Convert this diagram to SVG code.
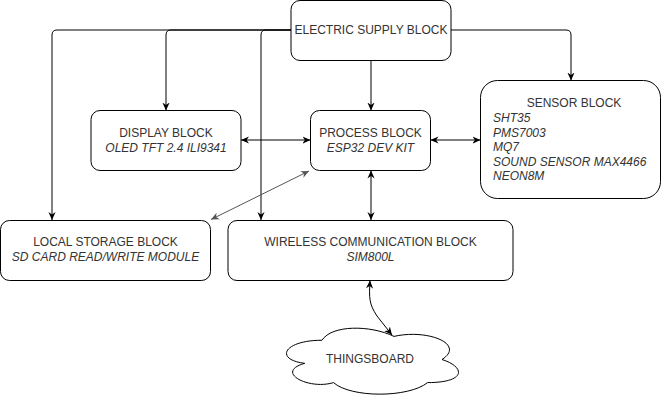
<svg xmlns="http://www.w3.org/2000/svg" width="662" height="402" viewBox="0 0 662 402">
<style>
.box{fill:#fff;stroke:#000;stroke-width:1}
.t{font-family:"Liberation Sans",Arial,sans-serif;font-size:12px;fill:#333;text-anchor:middle}
.i{font-style:italic}
.l{text-anchor:start}
.c{fill:none;stroke:#000;stroke-width:1}
.g{fill:none;stroke:#555;stroke-width:1}
</style>
<defs>
<marker id="a" viewBox="0 0 10 10" refX="10" refY="5" markerWidth="8" markerHeight="8" markerUnits="userSpaceOnUse" orient="auto-start-reverse"><path d="M0,0.5 L10,5 L0,9.5 L3,5 Z" fill="#000"/></marker>
<marker id="ag" viewBox="0 0 10 10" refX="10" refY="5" markerWidth="8" markerHeight="8" markerUnits="userSpaceOnUse" orient="auto-start-reverse"><path d="M0,0.5 L10,5 L0,9.5 L3,5 Z" fill="#555"/></marker>
</defs>
<rect width="662" height="402" fill="#fff"/>
<g id="connectors">
<path class="c" d="M291,30 H57 Q52,30 52,35 V220" marker-end="url(#a)"/>
<path class="c" d="M291,30 H171 Q166,30 166,35 V110.5" marker-end="url(#a)"/>
<path class="c" d="M291,30 H266 Q261,30 261,35 V220" marker-end="url(#a)"/>
<path class="c" d="M451,30 H566 Q571,30 571,35 V80.5" marker-end="url(#a)"/>
<path class="c" d="M371,60.5 V110.5" marker-end="url(#a)"/>
<path class="c" d="M241,140 H310.5" marker-start="url(#a)" marker-end="url(#a)"/>
<path class="c" d="M430.5,140 H480.5" marker-start="url(#a)" marker-end="url(#a)"/>
<path class="c" d="M371,170.5 V220" marker-start="url(#a)" marker-end="url(#a)"/>
<path class="g" d="M309,171 L211,219.5" marker-start="url(#ag)" marker-end="url(#ag)"/>
<path class="c" d="M370,280.5 C369,298 369,304 377,316 L392,335" marker-start="url(#a)" marker-end="url(#a)"/>
</g>
<g id="supply">
<rect class="box" x="291" y="0.5" width="160" height="60" rx="9"/>
<text class="t" x="371" y="34">ELECTRIC SUPPLY BLOCK</text>
</g>
<g id="display">
<rect class="box" x="91" y="110.5" width="150" height="60" rx="9"/>
<text class="t" x="166" y="137">DISPLAY BLOCK</text>
<text class="t i" x="166" y="152">OLED TFT 2.4 ILI9341</text>
</g>
<g id="process">
<rect class="box" x="310.5" y="110.5" width="120" height="60" rx="9"/>
<text class="t" x="370.5" y="137">PROCESS BLOCK</text>
<text class="t i" x="370.5" y="152">ESP32 DEV KIT</text>
</g>
<g id="sensor">
<rect class="box" x="480.5" y="80.5" width="180" height="118" rx="17"/>
<text class="t" x="574" y="107">SENSOR BLOCK</text>
<text class="t i l" x="493" y="122">SHT35</text>
<text class="t i l" x="493" y="136.5">PMS7003</text>
<text class="t i l" x="493" y="151">MQ7</text>
<text class="t i l" x="493" y="165.5">SOUND SENSOR MAX4466</text>
<text class="t i l" x="493" y="180">NEON8M</text>
</g>
<g id="storage">
<rect class="box" x="0.5" y="220.5" width="210" height="60" rx="9"/>
<text class="t" x="105.5" y="246">LOCAL STORAGE BLOCK</text>
<text class="t i" x="105.5" y="261">SD CARD READ/WRITE MODULE</text>
</g>
<g id="wireless">
<rect class="box" x="228" y="220.5" width="285" height="60" rx="9"/>
<text class="t" x="370.5" y="246">WIRELESS COMMUNICATION BLOCK</text>
<text class="t i" x="370.5" y="261">SIM800L</text>
</g>
<g id="cloud">
<path class="box" d="M322,340.25 C283.6,340.25 274,359.5 304.72,363.35 C274,371.82 308.56,390.3 333.52,382.6 C350.8,398 408.4,398 427.6,382.6 C466,382.6 466,367.2 442,359.5 C466,344.1 427.6,328.7 394,336.4 C370,324.85 331.6,324.85 322,340.25 Z"/>
<text class="t" x="370" y="363">THINGSBOARD</text>
</g>
</svg>
